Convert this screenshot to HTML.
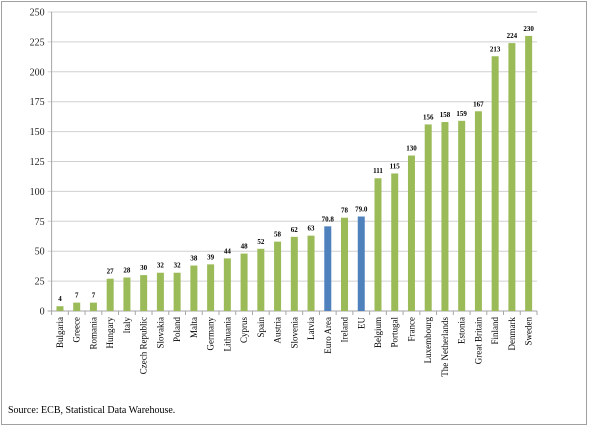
<!DOCTYPE html>
<html><head><meta charset="utf-8"><style>
body{margin:0;background:#fff;}
svg{display:block;font-family:"Liberation Serif",serif;}
</style></head><body>
<svg id="chart" width="603" height="430">
<rect x="1.5" y="1.5" width="585" height="423" fill="#fff" stroke="#a0a0a0"/>
<g id="grid"></g><g id="bars"></g><g id="labels"></g>
<text x="8" y="413" font-size="10" fill="#000">Source: ECB, Statistical Data Warehouse.</text>
</svg>
<script>
const categories=["Bulgaria","Greece","Romania","Hungary","Italy","Czech Republic","Slovakia","Poland","Malta","Germany","Lithuania","Cyprus","Spain","Austria","Slovenia","Latvia","Euro Area","Ireland","EU","Belgium","Portugal","France","Luxembourg","The Netherlands","Estonia","Great Britain","Finland","Denmark","Sweden"];
const values=[4,7,7,27,28,30,32,32,38,39,44,48,52,58,62,63,70.8,78,79.0,111,115,130,156,158,159,167,213,224,230];
const valueLabels=["4","7","7","27","28","30","32","32","38","39","44","48","52","58","62","63","70.8","78","79.0","111","115","130","156","158","159","167","213","224","230"];
const highlighted=["Euro Area","EU"];
const yTicks=[0,25,50,75,100,125,150,175,200,225,250];
const NS="http://www.w3.org/2000/svg";
const x0=51.6,x1=537,y0=311,yTop=12,yMax=250;
const slot=(x1-x0)/categories.length;
const ys=v=>y0-(v/yMax)*(y0-yTop);
const xc=i=>x0+slot*(i+0.5);
function mk(t,a,p){const e=document.createElementNS(NS,t);for(const k in a)e.setAttribute(k,a[k]);p.appendChild(e);return e;}
const grid=document.getElementById('grid'),bars=document.getElementById('bars'),labs=document.getElementById('labels');
yTicks.forEach(t=>{
  const y=ys(t);
  const l=mk('line',{x1:x0-4,x2:x1,y1:y,y2:y,stroke:t===0?'#a6a6a6':'#d0d0d0'},grid);
  
  
  const tx=mk('text',{x:x0-7,y:y+3.5,'font-size':'10','text-anchor':'end',fill:'#222'},grid);
  tx.textContent=t;
  
  
});
const ax=mk('line',{x1:x0,x2:x0,y1:yTop,y2:y0,stroke:'#a6a6a6'},grid);


for(let i=0;i<=categories.length;i++){
  const tk=mk('line',{x1:x0+slot*i,x2:x0+slot*i,y1:y0,y2:y0+4,stroke:'#a6a6a6'},grid);
  
  
}
categories.forEach((c,i)=>{
  const v=values[i],x=xc(i),bw=7;
  const r=mk('rect',{x:x-bw/2,y:ys(v),width:bw,height:y0-ys(v),fill:highlighted.includes(c)?'#4f81bd':'#9bbb59'},bars);
  
  
  const vl=mk('text',{x:x,y:ys(v)-5,'font-size':'7','font-weight':'bold','text-anchor':'middle',fill:'#000'},labs);
  vl.textContent=valueLabels[i];
  
  
  const cl=mk('text',{x:0,y:0,'font-size':'9','text-anchor':'end',fill:'#000',transform:`translate(${x+3},${y0+6}) rotate(-90)`},labs);
  cl.textContent=c;
  
  
});
</script>
</body></html>
